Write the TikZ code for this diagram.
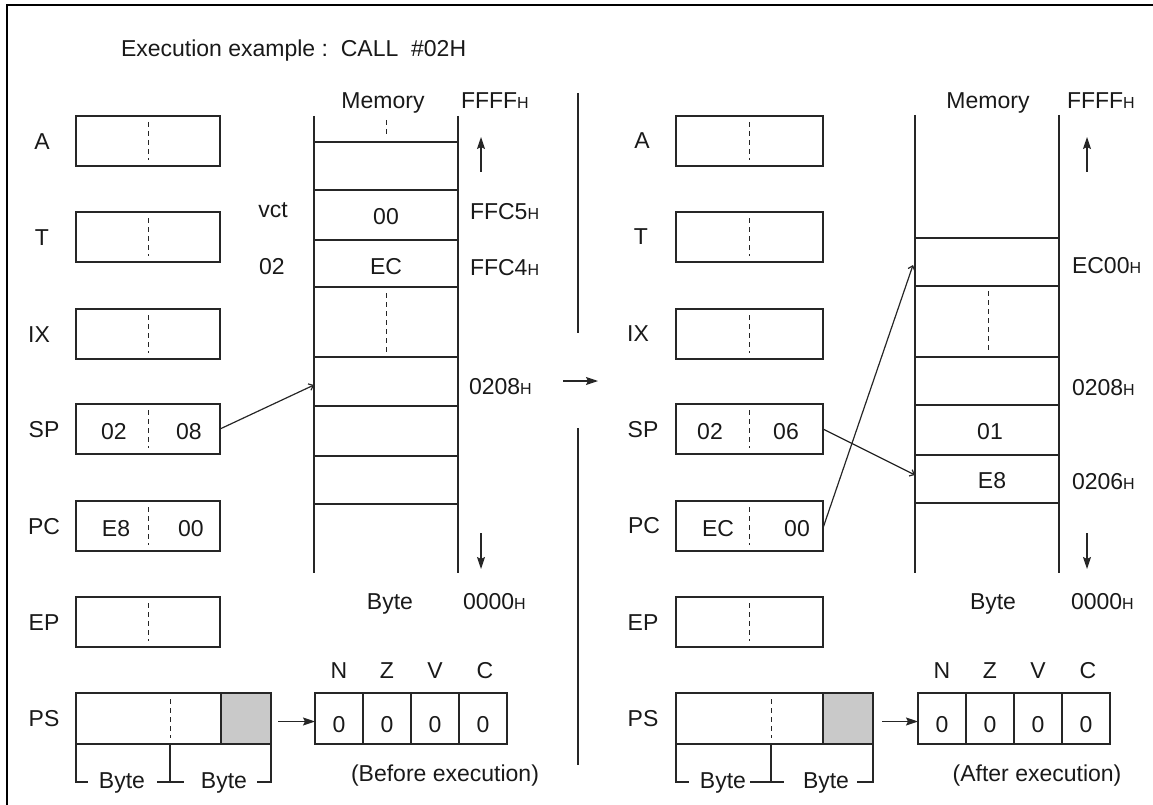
\documentclass[tikz,border=0pt]{standalone}
\usepackage{fontspec}
\setmainfont{Liberation Sans}
\usetikzlibrary{arrows.meta}
\newcommand{\hsub}{{\fontsize{16}{16}\selectfont H}}
\begin{document}
\begin{tikzpicture}[x=1pt,y=-1pt,
  every node/.style={font=\fontsize{23}{27}\selectfont, inner sep=0pt, outer sep=0pt, text height=16.5pt, text depth=0pt, text=black!90},
  ln/.style={line width=1.2pt, draw=black!85},
  regbox/.style={ln, rectangle, minimum width=144pt, minimum height=50pt, anchor=north west},
  psbox/.style={ln, rectangle, minimum width=195pt, minimum height=51pt, anchor=north west},
  graybox/.style={ln, fill=black!21, rectangle, minimum width=50pt, minimum height=51pt, anchor=north west},
  flagcell/.style={ln, rectangle, minimum width=48pt, minimum height=51pt, anchor=north west},
  dsh/.style={ln, line width=1pt, dash pattern=on 5pt off 4pt},
  bigarrow/.style={ln, -{Stealth[length=12pt,width=8pt,inset=2pt]}},
  thinarrow/.style={ln, -{Straight Barb[length=4pt,width=7pt]}},
  addr/.style={anchor=west}
]
\useasboundingbox (0,0) rectangle (1153,805);
% frame
\draw[line width=2pt, black] (7,805) -- (7,5) -- (1153,5);

% title
\node[anchor=west] (title) at (121,48) {Execution example :\ \ CALL\ \ \#02H};

% ================= LEFT (before) =================
\foreach \nm/\yy in {AL/116,TL/212,IXL/309,SPL/404,PCL/501,EPL/597}{
  \node[regbox] (\nm) at (76,\yy) {};
  \draw[dsh] ([yshift=-6pt]\nm.north) -- ([yshift=6pt]\nm.south);
}
\node[psbox] (PSL) at (76,693) {};
\node[graybox] (PSLg) at (221,693) {};
\draw[dsh] (170,699) -- (170,738);

\node (lAL) at (42,141) {A};
\node (lTL) at (42,237) {T};
\node (lIXL) at (39,334) {IX};
\node (lSPL) at (44,429) {SP};
\node (lPCL) at (44,526) {PC};
\node (lEPL) at (44,622) {EP};
\node (lPSL) at (44,718) {PS};

\node (spL1) at (114,431) {02};
\node (spL2) at (189,431) {08};
\node (pcL1) at (116,528) {E8};
\node (pcL2) at (191,528) {00};

% byte brackets
\draw[ln] (PSL.south west) |- (88,782);
\node (byL1) at (122,780) {Byte};
\draw[ln] (157,782) -- (184,782);
\draw[ln] (170,744) -- (170,782);
\node (byL2) at (224,780) {Byte};
\draw[ln] (PSL.south east) |- (257,782);

% memory column
\draw[ln] (314,116) -- (314,573);
\draw[ln] (458,116) -- (458,573);
\foreach \yy in {142,190,240,287,357,406,456,504}{
  \draw[ln] (314,\yy) -- (458,\yy);
}
\draw[dsh] (386,120) -- (386,136);
\draw[dsh] (386,293) -- (386,352);
\node (memL) at (383,100) {Memory};
\node[addr] (ffffL) at (461,100) {FFFF\hsub};
\node (vct) at (273,209) {vct};
\node (v02) at (272,266) {02};
\node (m00L) at (386,216) {00};
\node (mECL) at (386,266) {EC};
\node[addr] (ffc5) at (470,211) {FFC5\hsub};
\node[addr] (ffc4) at (470,267) {FFC4\hsub};
\node[addr] (a208L) at (469,386) {0208\hsub};
\node (byteL) at (390,601) {Byte};
\node[addr] (a000L) at (463,601) {0000\hsub};
\coordinate (upL1) at (481,172); \coordinate (upL2) at (481,137);
\draw[bigarrow] (upL1) -- (upL2);
\coordinate (dnL1) at (481,533); \coordinate (dnL2) at (481,569);
\draw[bigarrow] (dnL1) -- (dnL2);
\coordinate (tgtL) at (314,385);
\draw[thinarrow] (SPL.east) -- (tgtL);

% flags
\foreach \i/\xx in {1/315,2/363,3/411,4/459}{
  \node[flagcell] (fL\i) at (\xx,693) {};
  \node at ([yshift=-6pt]fL\i.center) {0};
}
\node (nL) at (fL1.center |- 0,670) {N};
\node (zL) at (fL2.center |- 0,670) {Z};
\node (vL) at (fL3.center |- 0,670) {V};
\node (cL) at ([xshift=2pt]fL4.center |- 0,670) {C};
\draw[bigarrow] ([xshift=7pt,yshift=-3pt]PSLg.east) -- ([yshift=-3pt]fL1.west);
\node (before) at (445,773) {(Before execution)};

% ================= MIDDLE =================
\draw[ln] (578,93) -- (578,333);
\draw[ln] (578,428) -- (578,765);
\coordinate (midA) at (563,381); \coordinate (midB) at (598,381);
\draw[bigarrow] (midA) -- (midB);

% ================= RIGHT (after) =================
\foreach \nm/\yy in {AR/116,TR/212,IXR/309,SPR/404,PCR/501,EPR/597}{
  \node[regbox, minimum width=147pt] (\nm) at (676,\yy) {};
  \draw[dsh] ([yshift=-6pt]\nm.north) -- ([yshift=6pt]\nm.south);
}
\node[psbox, minimum width=197pt] (PSR) at (676,693) {};
\node[graybox] (PSRg) at (823,693) {};
\draw[dsh] (771,699) -- (771,738);

\node (lAR) at (642,140) {A};
\node (lTR) at (641,236) {T};
\node (lIXR) at (638,333) {IX};
\node (lSPR) at (643,429) {SP};
\node (lPCR) at (644,525) {PC};
\node (lEPR) at (643,622) {EP};
\node (lPSR) at (643,718) {PS};

\node (spR1) at (710,431) {02};
\node (spR2) at (786,431) {06};
\node (pcR1) at (718,528) {EC};
\node (pcR2) at (797,528) {00};

\draw[ln] (PSR.south west) |- (689,782);
\node (byR1) at (723,780) {Byte};
\draw[ln] (750,782) -- (784,782);
\draw[ln] (771,744) -- (771,782);
\node (byR2) at (826,780) {Byte};
\draw[ln] (PSR.south east) |- (857,782);

\draw[ln] (915,115) -- (915,573);
\draw[ln] (1059,115) -- (1059,573);
\foreach \yy in {238,286,357,405,455,503}{
  \draw[ln] (915,\yy) -- (1059,\yy);
}
\draw[dsh] (988,291) -- (988,350);
\node (memR) at (988,100) {Memory};
\node[addr] (ffffR) at (1067,100) {FFFF\hsub};
\node[addr] (ec00) at (1072,265) {EC00\hsub};
\node[addr] (a208R) at (1072,387) {0208\hsub};
\node (m01) at (990,431) {01};
\node (mE8) at (992,480) {E8};
\node[addr] (a206) at (1072,481) {0206\hsub};
\node (byteR) at (993,601) {Byte};
\node[addr] (a000R) at (1071,601) {0000\hsub};
\coordinate (upR1) at (1087,172); \coordinate (upR2) at (1087,137);
\draw[bigarrow] (upR1) -- (upR2);
\coordinate (dnR1) at (1087,533); \coordinate (dnR2) at (1087,569);
\draw[bigarrow] (dnR1) -- (dnR2);
\coordinate (tgtR1) at (915,475);
\coordinate (tgtR2) at (913,265);
\draw[thinarrow] (SPR.east) -- (tgtR1);
\draw[thinarrow] ([yshift=-2pt]PCR.east) -- (tgtR2);

\foreach \i/\xx in {1/918,2/966,3/1014,4/1062}{
  \node[flagcell] (fR\i) at (\xx,693) {};
  \node at ([yshift=-6pt]fR\i.center) {0};
}
\node (nR) at (fR1.center |- 0,670) {N};
\node (zR) at (fR2.center |- 0,670) {Z};
\node (vR) at (fR3.center |- 0,670) {V};
\node (cR) at ([xshift=2pt]fR4.center |- 0,670) {C};
\draw[bigarrow] ([xshift=9pt,yshift=-3pt]PSRg.east) -- ([yshift=-3pt]fR1.west);
\node (after) at (1037,773) {(After execution)};
\end{tikzpicture}
\end{document}
